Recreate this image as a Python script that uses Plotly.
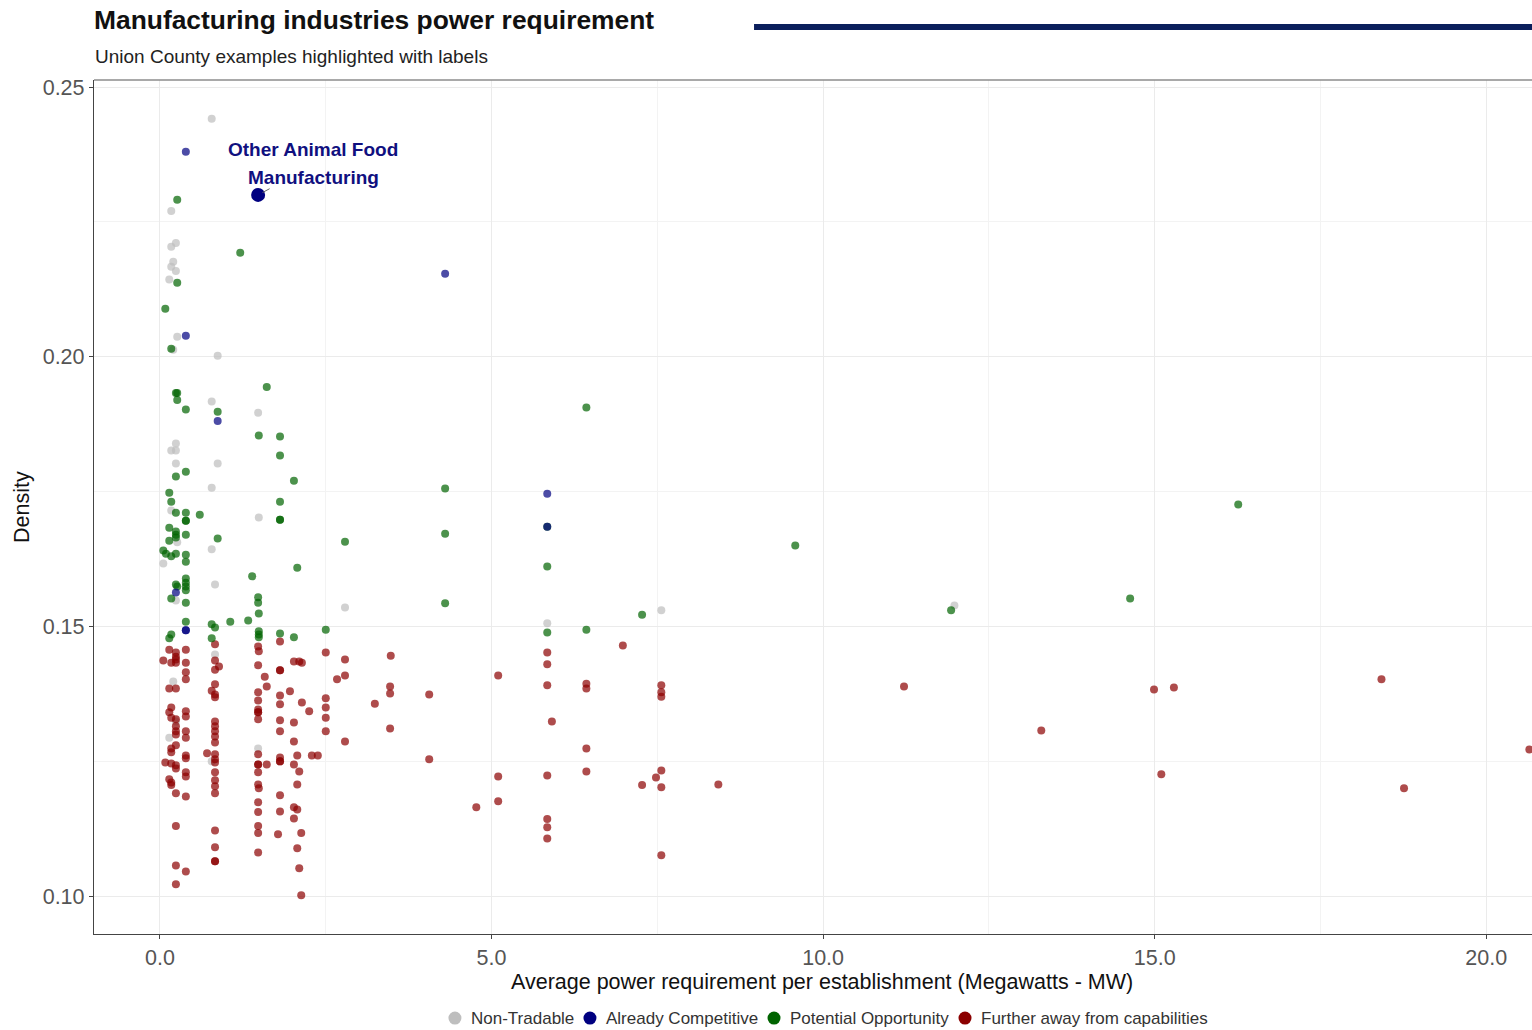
import plotly.graph_objects as go

# ---------------- data ----------------
nt_x = [0.78, 0.17, 0.24, 0.17, 0.20, 0.17, 0.24, 0.14, 0.26, 0.20, 0.87, 0.78, 1.48, 0.24, 0.17,
        0.24, 0.24, 0.87, 0.78, 0.17, 1.49, 0.26, 0.78, 0.05, 0.83, 0.24, 2.79, 0.20, 0.14, 1.48,
        5.84, 7.56, 11.98, 0.24, 0.83, 0.78]
nt_y = [0.2441, 0.2270, 0.2211, 0.2204, 0.2176, 0.2167, 0.2159, 0.2143, 0.2037, 0.2013, 0.2002, 0.1917,
        0.1896, 0.1839, 0.1826, 0.1826, 0.1802, 0.1802, 0.1757, 0.1715, 0.1702, 0.1656, 0.1643, 0.1617,
        0.1578, 0.1548, 0.1535, 0.1398, 0.1294, 0.1274, 0.1506, 0.1530, 0.1539, 0.1324, 0.1448, 0.1250]

ac_x = [0.39, 0.39, 0.87, 0.24, 0.39, 0.39, 5.84, 5.84, 4.30]
ac_y = [0.2380, 0.2039, 0.1881, 0.1563, 0.1493, 0.1493, 0.1746, 0.1685, 0.2154]

po_x = [0.26, 1.21, 0.26, 0.08, 0.17, 1.61, 0.24, 0.26, 0.26, 0.39, 0.87, 1.49, 1.81, 1.81, 0.39,
        0.24, 2.02, 0.14, 0.17, 0.24, 0.39, 0.39, 0.39, 0.60, 1.81, 1.81, 1.81, 0.14, 0.24, 0.24,
        0.24, 0.14, 0.39, 0.87, 2.79, 0.05, 0.09, 0.17, 0.24, 0.39, 0.39, 2.07, 1.39, 0.39, 0.39,
        0.39, 0.39, 0.24, 0.26, 0.17, 0.39, 1.48, 1.48, 1.49, 0.39, 0.78, 0.83, 1.06, 1.33, 2.50,
        0.17, 0.14, 0.78, 1.49, 1.49, 1.49, 1.81, 2.02, 6.43, 4.30, 5.84, 4.30, 5.84, 4.30, 7.27,
        5.84, 6.43, 9.58, 11.93, 14.63, 16.26]
po_y = [0.2291, 0.2193, 0.2137, 0.2089, 0.2015, 0.1944, 0.1933, 0.1933, 0.1920, 0.1902, 0.1898, 0.1854,
        0.1852, 0.1817, 0.1787, 0.1778, 0.1770, 0.1748, 0.1731, 0.1711, 0.1711, 0.1696, 0.1696, 0.1707,
        0.1731, 0.1698, 0.1698, 0.1683, 0.1676, 0.1670, 0.1665, 0.1659, 0.1670, 0.1663, 0.1657, 0.1641,
        0.1635, 0.1630, 0.1635, 0.1633, 0.1620, 0.1609, 0.1593, 0.1589, 0.1581, 0.1574, 0.1567, 0.1578,
        0.1574, 0.1552, 0.1544, 0.1554, 0.1544, 0.1524, 0.1509, 0.1504, 0.1498, 0.1509, 0.1511, 0.1494,
        0.1485, 0.1478, 0.1478, 0.1491, 0.1485, 0.1480, 0.1487, 0.1480, 0.1906, 0.1756, 0.1685, 0.1672,
        0.1611, 0.1543, 0.1522, 0.1489, 0.1494, 0.1650, 0.1530, 0.1552, 0.1726]

fa_x = [0.05, 0.14, 0.24, 0.24, 0.24, 0.17, 0.24, 0.39, 0.39, 0.39, 0.39, 0.14, 0.24, 0.17, 0.14,
        0.17, 0.24, 0.39, 0.39, 0.24, 0.24, 0.24, 0.39, 0.39, 0.24, 0.17, 0.17, 0.39, 0.39, 0.08,
        0.17, 0.24, 0.24, 0.39, 0.39, 0.14, 0.17, 0.17, 0.24, 0.39, 0.24, 0.24, 0.39, 0.24,
        0.83, 0.83, 0.83, 0.89, 0.83, 0.78, 0.83, 0.83, 0.83, 0.83, 0.83, 0.83, 0.83, 0.71, 0.83,
        0.83, 0.83, 0.83, 0.83, 0.83, 0.83, 0.83, 0.83, 0.83, 0.83,
        1.48, 1.49, 1.48, 1.58, 1.61, 1.48, 1.48, 1.48, 1.48, 1.48, 1.48, 1.48, 1.48, 1.48, 1.61,
        1.48, 1.48, 1.49, 1.48, 1.48, 1.48, 1.48, 1.48,
        1.81, 1.81, 1.81, 1.81, 1.81, 1.81, 1.81, 1.81, 1.81, 1.81, 1.81, 1.81, 1.78,
        2.02, 2.10, 2.14, 1.96, 2.14, 2.25, 2.02, 2.02, 2.07, 2.29, 2.38, 2.02, 2.10, 2.07, 2.02,
        2.07, 2.02, 2.13, 2.07, 2.10, 2.13,
        2.50, 2.50, 2.50, 2.50, 2.50, 2.79, 2.79, 2.67, 2.79, 3.48, 3.47, 3.47, 3.47, 3.24, 4.06,
        4.06, 5.10, 5.84, 5.84, 5.84, 6.43, 6.43, 7.56, 7.56, 7.56, 6.98, 5.91, 6.43, 5.10, 5.10,
        5.84, 6.43, 4.77, 5.84, 5.84, 5.84, 7.56, 7.48, 7.56, 7.27, 8.42, 7.56, 11.22, 13.29, 14.99,
        15.29, 15.10, 18.42, 18.76, 20.65]
fa_y = [0.1437, 0.1457, 0.1452, 0.1444, 0.1439, 0.1433, 0.1433, 0.1457, 0.1433, 0.1415, 0.1402, 0.1385,
        0.1385, 0.1350, 0.1341, 0.1331, 0.1328, 0.1343, 0.1333, 0.1315, 0.1306, 0.1300, 0.1306, 0.1294,
        0.1280, 0.1274, 0.1267, 0.1261, 0.1256, 0.1248, 0.1246, 0.1243, 0.1237, 0.1230, 0.1222, 0.1217,
        0.1211, 0.1206, 0.1191, 0.1185, 0.1130, 0.1057, 0.1046, 0.1022,
        0.1467, 0.1437, 0.1420, 0.1426, 0.1393, 0.1381, 0.1374, 0.1369, 0.1324, 0.1315, 0.1306, 0.1296,
        0.1285, 0.1265, 0.1263, 0.1254, 0.1248, 0.1230, 0.1215, 0.1204, 0.1191, 0.1122, 0.1091, 0.1065,
        0.1065,
        0.1463, 0.1454, 0.1428, 0.1407, 0.1389, 0.1378, 0.1363, 0.1346, 0.1341, 0.1341, 0.1328, 0.1263,
        0.1244, 0.1244, 0.1244, 0.1230, 0.1207, 0.1200, 0.1174, 0.1156, 0.1130, 0.1117, 0.1081,
        0.1472, 0.1419, 0.1419, 0.1372, 0.1356, 0.1326, 0.1306, 0.1257, 0.1250, 0.1250, 0.1187, 0.1157,
        0.1115,
        0.1435, 0.1435, 0.1433, 0.1380, 0.1359, 0.1343, 0.1322, 0.1287, 0.1261, 0.1261, 0.1261, 0.1244,
        0.1231, 0.1207, 0.1165, 0.1161, 0.1144, 0.1117, 0.1089, 0.1052, 0.1002,
        0.1452, 0.1367, 0.1350, 0.1331, 0.1306, 0.1439, 0.1409, 0.1402, 0.1287, 0.1446, 0.1389, 0.1376,
        0.1311, 0.1357, 0.1374, 0.1254, 0.1409, 0.1452, 0.1430, 0.1391, 0.1394, 0.1385, 0.1391, 0.1378,
        0.1370, 0.1465, 0.1324, 0.1274, 0.1222, 0.1176, 0.1224, 0.1231, 0.1165, 0.1143, 0.1128, 0.1107,
        0.1233, 0.1220, 0.1202, 0.1206, 0.1207, 0.1076, 0.1389, 0.1307, 0.1383, 0.1387, 0.1226, 0.1402,
        0.1200, 0.1272]

hl_x = [1.48]
hl_y = [0.2300]
hl_label = ["Other Animal Food", "Manufacturing"]

categories = ["Non-Tradable", "Already Competitive", "Potential Opportunity", "Further away from capabilities"]
colors = ["#bebebe", "#000080", "#006400", "#8b0000"]

x_ticks = [0, 5, 10, 15, 20]
y_ticks = [0.10, 0.15, 0.20, 0.25]

FONT = "Liberation Sans, Arial, sans-serif"

fig = go.Figure()

series = [(nt_x, nt_y, 0), (fa_x, fa_y, 3), (po_x, po_y, 2), (ac_x, ac_y, 1)]
for xs, ys, ci in series:
    fig.add_trace(go.Scatter(
        x=xs, y=ys, mode="markers", showlegend=False, name=categories[ci],
        marker=dict(color=colors[ci], size=8, opacity=0.7, line=dict(width=0)),
    ))

fig.add_trace(go.Scatter(
    x=hl_x, y=hl_y, mode="markers", showlegend=False, name="highlight",
    marker=dict(color=colors[1], size=14, line=dict(width=0)),
))

label_font = dict(family=FONT, size=19, color="#10107f", weight="bold")
annotations = [
    # label (two lines, ggrepel style) + short leader segment
    dict(x=hl_x[0], y=hl_y[0], xref="x", yref="y", text=hl_label[0], showarrow=False,
         xshift=55, yshift=45, font=label_font),
    dict(x=hl_x[0], y=hl_y[0], xref="x", yref="y", text=hl_label[1], showarrow=False,
         xshift=55, yshift=17, font=label_font),
    dict(x=hl_x[0], y=hl_y[0], xref="x", yref="y", text="", showarrow=True,
         ax=13, ay=-7, arrowhead=0, arrowwidth=1, arrowcolor="#666666", standoff=5),
    # titles
    dict(x=0, y=1.0703, xref="paper", yref="paper", xanchor="left", yanchor="middle", xshift=-2,
         text="<b>Manufacturing industries power requirement</b>", showarrow=False,
         font=dict(family=FONT, size=26.4, color="#111111")),
    dict(x=0, y=1.028, xref="paper", yref="paper", xanchor="left", yanchor="middle", xshift=-1,
         text="Union County examples highlighted with labels", showarrow=False,
         font=dict(family=FONT, size=19, color="#222222")),
    dict(x=0.506, y=-0.0562, xref="paper", yref="paper", xanchor="center", yanchor="middle",
         text="Average power requirement per establishment (Megawatts - MW)", showarrow=False,
         font=dict(family=FONT, size=21.5, color="#111111")),
    dict(x=-0.0501, y=0.5, xref="paper", yref="paper", xanchor="center", yanchor="middle",
         text="Density", textangle=-90, showarrow=False,
         font=dict(family=FONT, size=21.5, color="#111111")),
]

shapes = [
    dict(type="line", xref="paper", yref="paper", x0=0.459, x1=1.0, y0=1.062, y1=1.062,
         line=dict(color="#0b1f5c", width=6)),
    dict(type="line", xref="paper", yref="paper", x0=0, x1=1.0, y0=1, y1=1,
         line=dict(color="#8c8c8c", width=1.5)),
]

# legend (bottom, horizontal) drawn as key circles + text
legend_marker_x = [0.2510, 0.3449, 0.4729, 0.6057]
legend_y = -0.0984
for name, c, lx in zip(categories, colors, legend_marker_x):
    shapes.append(dict(type="circle", xref="paper", yref="paper", xsizemode="pixel", ysizemode="pixel",
                       xanchor=lx, yanchor=legend_y, x0=-6.5, x1=6.5, y0=-6.5, y1=6.5,
                       fillcolor=c, line=dict(width=0)))
    annotations.append(dict(x=lx, y=legend_y, xref="paper", yref="paper", xshift=14,
                            xanchor="left", yanchor="middle", text=name, showarrow=False,
                            font=dict(family=FONT, size=17, color="#333333")))

fig.update_layout(
    width=1532, height=1030,
    margin=dict(l=94, r=0, t=80, b=96),
    paper_bgcolor="white", plot_bgcolor="white",
    font=dict(family=FONT),
    showlegend=False,
    annotations=annotations, shapes=shapes,
    xaxis=dict(range=[-0.995, 20.69], tickvals=x_ticks, tickformat=".1f",
               showgrid=True, gridcolor="#ebebeb", gridwidth=1.3,
               minor=dict(dtick=2.5, tick0=0, showgrid=True, gridcolor="#f3f3f3", gridwidth=0.7),
               showline=True, linecolor="#444444", linewidth=1.3,
               ticks="outside", ticklen=4, tickcolor="#444444", tickwidth=1.3,
               tickfont=dict(family=FONT, size=21.5, color="#555555"), zeroline=False),
    yaxis=dict(range=[0.0930, 0.2513], tickvals=y_ticks, tickformat=".2f",
               showgrid=True, gridcolor="#ebebeb", gridwidth=1.3,
               minor=dict(dtick=0.025, tick0=0.1, showgrid=True, gridcolor="#f3f3f3", gridwidth=0.7),
               showline=True, linecolor="#444444", linewidth=1.3,
               ticks="outside", ticklen=4, tickcolor="#444444", tickwidth=1.3,
               tickfont=dict(family=FONT, size=21.5, color="#555555"), zeroline=False),
)

# remove the browser's default 8px body margin so the 1532x1030 figure fills the window exactly
fig.write_html("out.html", config={"displayModeBar": False},
               post_script="document.body.style.margin='0';document.body.style.padding='0';")
